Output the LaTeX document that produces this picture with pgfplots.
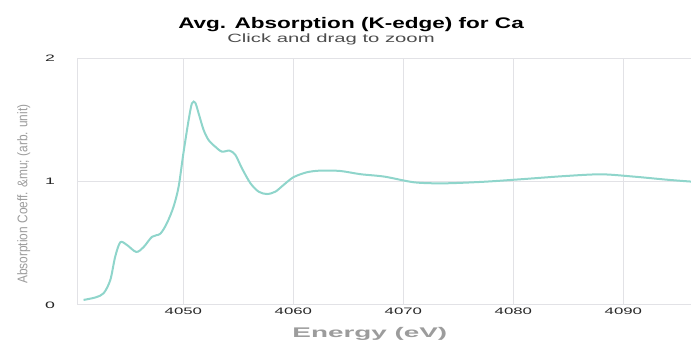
\documentclass[border=0pt]{standalone}
\usepackage{pgfplots}
\pgfplotsset{compat=1.18}
\usepackage{fontspec}
\setmainfont{Liberation Sans}
\definecolor{linec}{HTML}{8FD5CB}
\definecolor{gridc}{HTML}{E2E2E6}
\definecolor{labc}{HTML}{9C9C9C}
\begin{document}
\begin{tikzpicture}
\path[use as bounding box] (-58pt,-27.75pt) rectangle (460.3pt,228.75pt);
\begin{axis}[
  at={(0,0)}, anchor=south west,
  scale only axis, width=460.3pt, height=184.9pt,
  xmin=4040.36, xmax=4096.15, ymin=0, ymax=2,
  xtick={4050,4060,4070,4080,4090}, ytick={0,1,2},
  major tick length=0pt,
  axis x line*=bottom, axis y line*=left,
  axis line style={draw=gridc, line width=0.75pt, -},
  grid=major, grid style={draw=gridc, line width=0.75pt},
  /pgf/number format/assume math mode=true,
  /pgf/number format/1000 sep={},
  tick label style={font=\fontsize{7}{8}\selectfont, text=black!85},
  xticklabel style={anchor=north, inner sep=0pt, yshift=-2pt},
  yticklabel style={anchor=east, inner sep=0pt, xshift=-16.5pt},
  xticklabel={\scalebox{1.8}[1]{\pgfmathprintnumber{\tick}}},
  yticklabel={\scalebox{1.9}[1]{\pgfmathprintnumber{\tick}}},
  clip=true,
]
\addplot[linec, line width=1.5pt, smooth, tension=0.5] coordinates {
(4040.93,0.041) (4042.0,0.061) (4042.75,0.095) (4043.36,0.203) (4043.8,0.391) (4044.27,0.509)
(4044.88,0.486) (4045.72,0.430) (4046.39,0.470) (4047.15,0.553) (4047.9,0.578)
(4048.5,0.663) (4049.1,0.795) (4049.57,0.960) (4050.0,1.229) (4050.48,1.501)
(4050.78,1.636) (4051.08,1.641) (4051.39,1.554) (4051.84,1.420) (4052.3,1.337)
(4052.9,1.284) (4053.5,1.244) (4054.2,1.252) (4054.73,1.217) (4055.33,1.108)
(4056.1,0.987) (4056.85,0.919) (4057.6,0.900) (4058.36,0.919) (4059.1,0.973)
(4060.0,1.036) (4061.2,1.076) (4062.45,1.090) (4064.27,1.087) (4066.1,1.061)
(4068.3,1.041) (4071.0,0.995) (4073.75,0.987) (4077.4,1.000) (4081.0,1.022)
(4084.7,1.046) (4088.0,1.060) (4091.0,1.041) (4094.0,1.016) (4096.15,1.001)
};
\end{axis}
\node[anchor=base west, inner sep=0pt, font=\bfseries\fontsize{11.5}{13}\selectfont] at (75.5pt,207pt) {\scalebox{1.47}[1]{Avg. Absorption (K-edge) for Ca}};
\node[anchor=base west, inner sep=0pt, font=\fontsize{9}{10}\selectfont, text=black!70] at (112.3pt,196.5pt) {\scalebox{1.69}[1]{Click and drag to zoom}};
\node[anchor=base, font=\bfseries\fontsize{10.5}{12}\selectfont, text=labc] at (219.4pt,-24.75pt) {\scalebox{1.99}[1]{Energy (eV)}};
\node[anchor=base west, inner sep=0pt, rotate=90, font=\fontsize{10.5}{12}\selectfont, text=labc] at (-37.5pt,15.75pt) {\scalebox{0.85}[1]{Absorption Coeff. \&mu; (arb. unit)}};
\end{tikzpicture}
\end{document}
